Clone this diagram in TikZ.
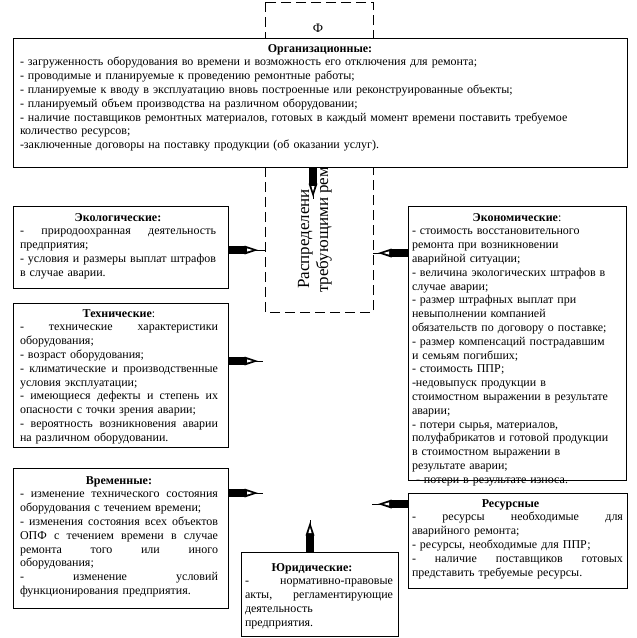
\documentclass[tikz,border=0pt]{standalone}
\usepackage{fontspec}
\setmainfont{Liberation Serif}
\usetikzlibrary{decorations.markings}
\newcommand\jl[1]{{\spaceskip=0.25em plus 1fil\xspaceskip=0.25em plus 1fil\makebox[\linewidth][s]{#1}}}
\newcommand\ct[1]{\makebox[\linewidth][c]{#1}}
\begin{document}
\begin{tikzpicture}[x=1pt,y=-1pt,
  box/.style={draw, line width=0.9pt, anchor=north west, inner sep=0pt, outer sep=0pt, fill=white},
  txt/.style={anchor=base west, inner sep=0pt, outer sep=0pt, align=left, font=\fontsize{12}{13.8}\selectfont},
  dashbox/.style={draw, line width=0.8pt, dash pattern=on 10pt off 5pt},
  vtxt/.style={rotate=90, anchor=base west, inner sep=0pt, font=\fontsize{17}{20}\selectfont},
  fat/.style={draw, line width=0.8pt, postaction={decorate},
    decoration={markings, mark=at position 0 with {
      \fill (0,-4) rectangle (17,4);
      \fill (16.5,-4.5) -- (30,0) -- (16.5,4.5) -- cycle;
      \fill[white] (19,-1.6) -- (24.5,0) -- (19,1.6) -- cycle;}}}
]
\useasboundingbox (0,0) rectangle (637,638);
\fill[white] (0,0) rectangle (637,638);

% central dashed box
\draw[dashbox] (265,2) rectangle (373,312);
\node[inner sep=0pt, font=\fontsize{13}{15}\selectfont] (phi) at (318,28) {Ф};
\node[vtxt] (v1) at (309,289) {Распределени};
\node[vtxt] (v2) at (328,293) {требующими рем};

% boxes
\node[box, minimum width=614pt, minimum height=129pt] (org) at (13,38) {};
\node[box, minimum width=215pt, minimum height=82pt] (eco) at (13,206) {};
\node[box, minimum width=215pt, minimum height=144pt] (tech) at (13,303) {};
\node[box, minimum width=215pt, minimum height=140pt] (time) at (13,468) {};
\node[box, minimum width=157pt, minimum height=84pt] (jur) at (241,552) {};
\node[box, minimum width=218pt, minimum height=274pt] (ekon) at (408,206) {};
\node[box, minimum width=219pt, minimum height=95pt] (res) at (408,493) {};

% texts
\node[txt, text width=600pt] (orgT) at (20,52) {%
\makebox[600pt][c]{\textbf{Организационные:}}\\
- загруженность оборудования во времени и возможность его отключения для ремонта;\\
- проводимые и планируемые к проведению ремонтные работы;\\
- планируемые к вводу в эксплуатацию вновь построенные или реконструированные объекты;\\
- планируемый объем производства на различном оборудовании;\\
- наличие поставщиков ремонтных материалов, готовых в каждый момент времени поставить требуемое\\
количество ресурсов;\\
-заключенные договоры на поставку продукции (об оказании услуг).};

\node[txt, text width=196pt] (ecoT) at (20,221) {%
\ct{\textbf{Экологические:}}\\
\jl{- природоохранная деятельность}\\
предприятия;\\
\jl{- условия и размеры выплат штрафов}\\
в случае аварии.};

\node[txt, text width=198pt] (techT) at (20,317) {%
\ct{\textbf{Технические}:}\\
\jl{- технические характеристики}\\
оборудования;\\
- возраст оборудования;\\
\jl{- климатические и производственные}\\
условия эксплуатации;\\
\jl{- имеющиеся дефекты и степень их}\\
опасности с точки зрения аварии;\\
\jl{- вероятность возникновения аварии}\\
на различном оборудовании.};

\node[txt, text width=198pt] (timeT) at (20,484) {%
\ct{\textbf{Временные:}}\\
\jl{- изменение технического состояния}\\
оборудования с течением времени;\\
\jl{- изменения состояния всех объектов}\\
\jl{ОПФ с течением времени в случае}\\
\jl{ремонта того или иного}\\
оборудования;\\
\jl{- изменение условий}\\
функционирования предприятия.};

\node[txt, text width=148pt] (jurT) at (245,571) {%
\ct{\hspace*{-14pt}\textbf{Юридические:}}\\
\jl{- нормативно-правовые}\\
\jl{акты, регламентирующие}\\
деятельность\\
предприятия.};

\node[txt, text width=210pt] (ekonT) at (412,221) {%
\ct{\textbf{Экономические}:}\\
- стоимость восстановительного\\
ремонта при возникновении\\
аварийной ситуации;\\
- величина экологических штрафов в\\
случае аварии;\\
- размер штрафных выплат при\\
невыполнении компанией\\
обязательств по договору о поставке;\\
- размер компенсаций пострадавшим\\
и семьям погибших;\\
- стоимость ППР;\\
-недовыпуск продукции в\\
стоимостном выражении в результате\\
аварии;\\
- потери сырья, материалов,\\
полуфабрикатов и готовой продукции\\
в стоимостном выражении в\\
результате аварии;\\
\hspace*{4pt}- потери в результате износа.};

\node[txt, text width=211pt] (resT) at (412,507) {%
\ct{\hspace*{-14pt}\textbf{Ресурсные}}\\
\jl{- ресурсы необходимые для}\\
аварийного ремонта;\\
- ресурсы, необходимые для ППР;\\
\jl{- наличие поставщиков готовых}\\
представить требуемые ресурсы.};

% connectors
\coordinate (pOrg) at (313,199);
\coordinate (pEco) at (265,250);
\coordinate (pTech) at (263,361);
\coordinate (pTime) at (263,493);
\coordinate (pEkon) at (373,253);
\coordinate (pRes) at (372,504);
\coordinate (pJur) at (310,520);
\draw[fat] (org.south -| pOrg) -- (pOrg);
\draw[fat] (eco.east |- pEco) -- (pEco);
\draw[fat] (tech.east |- pTech) -- (pTech);
\draw[fat] (time.east |- pTime) -- (pTime);
\draw[fat] (ekon.west |- pEkon) -- (pEkon);
\draw[fat] (res.west |- pRes) -- (pRes);
\draw[fat] (jur.north -| pJur) -- (pJur);
\end{tikzpicture}
\end{document}
